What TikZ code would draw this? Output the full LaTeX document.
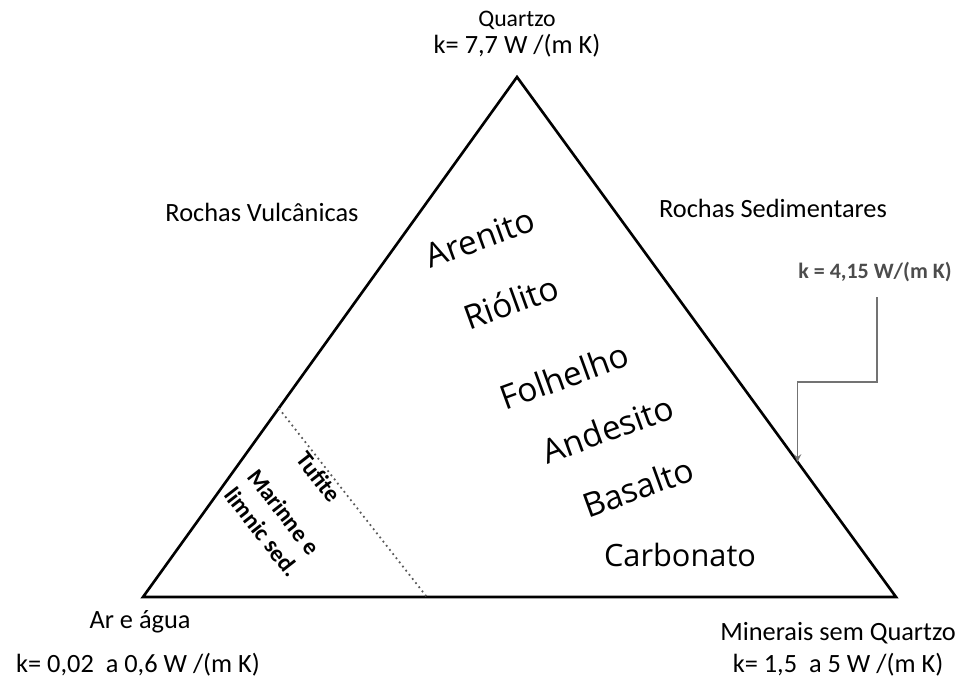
\documentclass[tikz,border=0pt]{standalone}
\usepackage{fontspec}
\setmainfont{Carlito}
\newfontfamily\rockfont{Open Sans}
\usetikzlibrary{arrows, positioning, calc}

\begin{document}
\begin{tikzpicture}[
    x=0.02cm, y=-0.02cm,
    label/.style={align=center, inner sep=1pt, font=\fontsize{15}{18}\selectfont},
    rock/.style={inner sep=1pt, font=\rockfont\fontsize{19}{22}\selectfont, rotate=20},
    tuff/.style={align=center, inner sep=0pt, font=\bfseries\fontsize{13.5}{15}\selectfont, rotate=-52},
    edge/.style={line width=1.5pt},
    pointer/.style={draw=black!55, line width=0.9pt, ->, >=stealth}
]
\useasboundingbox (0,0) rectangle (962,681);

% Vertices
\coordinate (qz) at (517,77);
\coordinate (ar) at (143,597);
\coordinate (mn) at (896,597);
\draw [edge] (qz) -- (ar) -- (mn) -- cycle;

% Corner labels
\node (quartzo) [label, font=\fontsize{13.5}{16}\selectfont] at (517,20) {Quartzo};
\node (kquartzo) [label] at (517,46) {k= 7,7 W /(m K)};
\node (agua) [label] at (140,622) {Ar e água};
\node (kagua) [label] at (138,665) {k= 0,02 \ a 0,6 W /(m K)};
\node (minerais) [label] at (838,633) {Minerais sem Quartzo};
\node (kmin) [label] at (838,665) {k= 1,5 \ a 5 W /(m K)};

% Groups
\node (vulc) [label] at (262,212) {Rochas Vulcânicas};
\node (sedim) [label] at (773,208) {Rochas Sedimentares};

% Rocks
\node (arenito) [rock] at (480,238) {Arenito};
\node (riolito) [rock] at (511,302) {Riólito};
\node (folhelho) [rock] at (564,376) {Folhelho};
\node (andesito) [rock] at (608,429) {Andesito};
\node (basalto) [rock] at (638,487) {Basalto};
\node (carbonato) [rock, rotate=-20, font=\rockfont\fontsize{17.5}{20}\selectfont] at (680,555) {Carbonato};

% Tuffite boundary
\coordinate (tufA) at ($(qz)!0.637!(ar)$);
\coordinate (tufB) at ($(ar)!0.377!(mn)$);
\draw [black!65, dotted, line width=1pt] (tufA) -- (tufB);
\node (tufite) [tuff] at (319,477) {Tufite};
\node (marine) [tuff] at (284,512) {Marinne e};
\node (limnic) [tuff] at (262,532) {limnic sed.};

% Sandstone conductivity
\node (k415) [label, font=\bfseries\fontsize{12.5}{15}\selectfont, text=black!70] at (875,272) {k = 4,15 W/(m K)};
\coordinate (kedge) at ($(qz)!0.74!(mn)$);
\coordinate (kstart) at (877,297);
\draw [pointer] (kstart) |- ($(kedge)+(0,-80)$) -- (kedge);

\end{tikzpicture}
\end{document}
